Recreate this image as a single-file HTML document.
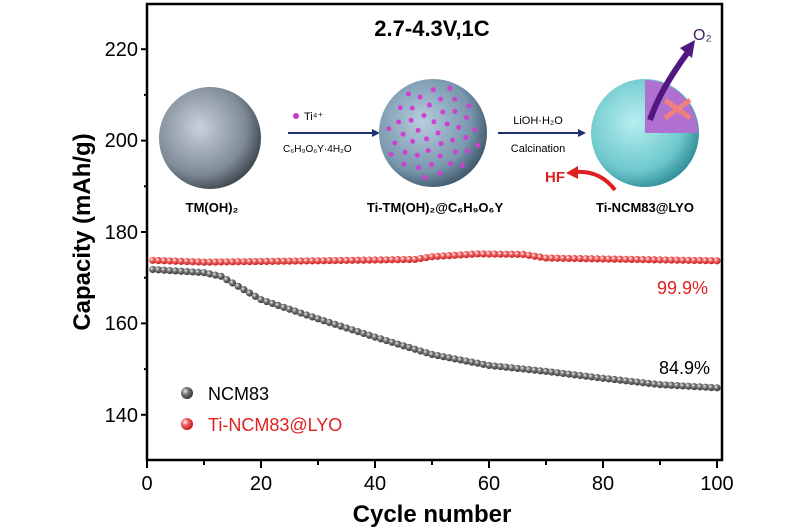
<!DOCTYPE html>
<html><head><meta charset="utf-8"><style>
body{margin:0;background:#fff;}
svg{display:block;font-family:"Liberation Sans",Arial,sans-serif;}
</style></head><body>
<svg id="s" width="800" height="530" viewBox="0 0 800 530">
<defs>
<radialGradient id="gk" cx="35%" cy="35%" r="70%"><stop offset="0" stop-color="#eee"/><stop offset="0.4" stop-color="#777"/><stop offset="1" stop-color="#333"/></radialGradient>
<radialGradient id="gr" cx="35%" cy="35%" r="70%"><stop offset="0" stop-color="#fff"/><stop offset="0.4" stop-color="#f06060"/><stop offset="1" stop-color="#c01818"/></radialGradient>
<radialGradient id="gs" cx="40%" cy="40%" r="65%"><stop offset="0" stop-color="#c8d2dc"/><stop offset="0.7" stop-color="#7e8a96"/><stop offset="1" stop-color="#3a424a"/></radialGradient>
<radialGradient id="gb" cx="40%" cy="40%" r="65%"><stop offset="0" stop-color="#b6cede"/><stop offset="0.7" stop-color="#7896ac"/><stop offset="1" stop-color="#3c5468"/></radialGradient>
<radialGradient id="gc" cx="40%" cy="40%" r="65%"><stop offset="0" stop-color="#b8eef0"/><stop offset="0.7" stop-color="#6cc8cc"/><stop offset="1" stop-color="#2e8a94"/></radialGradient>
</defs>
<rect x="147" y="4" width="575" height="456" fill="none" stroke="#000" stroke-width="2.5"/>
<g id="ticks" stroke="#000" stroke-width="2"></g>
<g font-size="20" text-anchor="end" fill="#000">
<text x="138" y="56">220</text><text x="138" y="147">200</text><text x="138" y="239">180</text><text x="138" y="330">160</text><text x="138" y="422">140</text>
</g>
<g font-size="20" text-anchor="middle">
<text x="147" y="490">0</text><text x="261" y="490">20</text><text x="375" y="490">40</text><text x="489" y="490">60</text><text x="603" y="490">80</text><text x="717" y="490">100</text>
</g>
<text x="432" y="522" font-size="24" font-weight="bold" text-anchor="middle">Cycle number</text>
<text transform="translate(90,232) rotate(-90)" font-size="24" font-weight="bold" text-anchor="middle">Capacity (mAh/g)</text>
<text x="432" y="36" font-size="22" font-weight="bold" text-anchor="middle">2.7-4.3V,1C</text>
<circle cx="210" cy="138" r="51" fill="url(#gs)"/>
<text x="212" y="212" font-size="13" font-weight="bold" text-anchor="middle">TM(OH)₂</text>
<line x1="288" y1="133" x2="372" y2="133" stroke="#203070" stroke-width="2"/><polygon points="372,129 380,133 372,137" fill="#203070"/>
<circle cx="296" cy="116" r="3" fill="#c040c0"/><text x="304" y="120" font-size="11">Ti⁴⁺</text>
<text x="283" y="152" font-size="10">C₆H₉O₆Y·4H₂O</text>
<circle cx="433" cy="133" r="54" fill="url(#gb)"/>
<g id="dots" fill="#d040d0"></g>
<text x="435" y="212" font-size="13" font-weight="bold" text-anchor="middle">Ti-TM(OH)₂@C₆H₉O₆Y</text>
<line x1="498" y1="133" x2="578" y2="133" stroke="#203070" stroke-width="2"/><polygon points="578,129 586,133 578,137" fill="#203070"/>
<text x="538" y="124" font-size="11" text-anchor="middle">LiOH·H₂O</text>
<text x="538" y="152" font-size="11" text-anchor="middle">Calcination</text>
<circle cx="645" cy="133" r="54" fill="url(#gc)"/>
<path d="M645,133 L645,80 A53,53 0 0 1 698,133 Z" fill="#b070d0"/>
<path d="M650,120 Q660,90 688,52" stroke="#501880" stroke-width="6" fill="none"/><polygon points="680,48 695,40 692,58" fill="#501880"/>
<text x="693" y="40" font-size="16" fill="#402060">O₂</text>
<path d="M665,100 L690,118 M690,100 L665,118" stroke="#f08080" stroke-width="5"/>
<path d="M615,190 Q600,170 575,172" stroke="#e02020" stroke-width="4" fill="none"/><polygon points="578,166 566,173 578,179" fill="#e02020"/>
<text x="545" y="182" font-size="15" font-weight="bold" fill="#e02020">HF</text>
<text x="645" y="212" font-size="13" font-weight="bold" text-anchor="middle">Ti-NCM83@LYO</text>
<g id="ser"></g>
<text x="708" y="294" font-size="18" fill="#e02020" text-anchor="end">99.9%</text>
<text x="710" y="374" font-size="18" text-anchor="end">84.9%</text>
<circle cx="187" cy="393" r="6" fill="url(#gk)"/><text x="208" y="400" font-size="18">NCM83</text>
<circle cx="187" cy="424" r="6" fill="url(#gr)"/><text x="208" y="431" font-size="18" fill="#e02020">Ti-NCM83@LYO</text>
</svg>
<script>
var ns="http://www.w3.org/2000/svg",s=document.getElementById('ser'),t=document.getElementById('ticks');
function X(c){return 147+c*5.7}function Y(v){return 232-(v-180)*4.57}
function L(x1,y1,x2,y2){var l=document.createElementNS(ns,'line');l.setAttribute('x1',x1);l.setAttribute('y1',y1);l.setAttribute('x2',x2);l.setAttribute('y2',y2);t.appendChild(l);}
for(var v=140;v<=220;v+=10){L(141-(v%20?-3:0),Y(v),147,Y(v));}
for(var c=0;c<=100;c+=10){L(X(c),460,X(c),c%20?465:468);}
var kp=[[1,171.8],[10,171.1],[13,170.3],[20,165.2],[30,161],[40,157],[50,153.2],[60,150.8],[70,149.5],[80,148],[90,146.6],[100,145.9]];
function interp(p,c){for(var i=0;i<p.length-1;i++){if(c<=p[i+1][0]){var f=(c-p[i][0])/(p[i+1][0]-p[i][0]);return p[i][1]+f*(p[i+1][1]-p[i][1]);}}return p[p.length-1][1];}
var rp=[[1,173.8],[10,173.4],[30,173.7],[47,174],[50,174.6],[58,175.2],[66,175.1],[70,174.3],[100,173.7]];
function dot(c,v,g){var e=document.createElementNS(ns,'circle');e.setAttribute('cx',X(c));e.setAttribute('cy',Y(v));e.setAttribute('r',3.6);e.setAttribute('fill',g);s.appendChild(e);}
for(var c=1;c<=100;c++)dot(c,interp(kp,c),'url(#gk)');
for(var c=1;c<=100;c++)dot(c,interp(rp,c),'url(#gr)');
var d=document.getElementById('dots');
for(var i=0;i<45;i++){var a=i*2.4,r=48*Math.sqrt((i+0.5)/45);var e=document.createElementNS(ns,'circle');e.setAttribute('cx',433+r*Math.cos(a));e.setAttribute('cy',133+r*Math.sin(a));e.setAttribute('r',2.5);d.appendChild(e);}
</script>
</body></html>
